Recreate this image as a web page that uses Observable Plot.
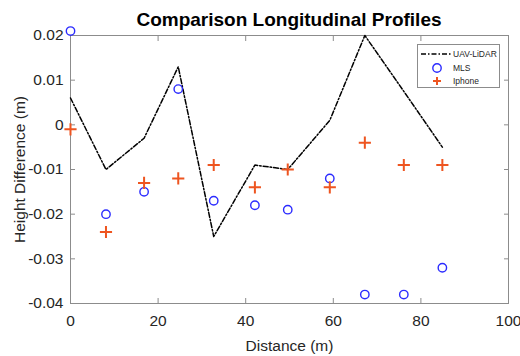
<!DOCTYPE html>
<html>
<head>
<meta charset="utf-8">
<script src="https://cdn.jsdelivr.net/npm/d3@7"></script>
<script src="https://cdn.jsdelivr.net/npm/@observablehq/plot@0.6"></script>
<style>
  html, body { margin: 0; padding: 0; background: #fff; }
  #wrap { position: relative; width: 520px; height: 356px; font-family: "Liberation Sans", Arial, sans-serif; }
  #title { position: absolute; left: 70px; width: 438px; top: 9px; text-align: center; font-size: 19px; font-weight: bold; color: #000; line-height: 22px; }
  #legend { position: absolute; left: 417px; top: 44px; width: 81px; height: 42px; border: 1px solid #8c8c8c; background: #fff; font-size: 8.5px; color: #262626; }
  #legend .row { position: absolute; left: 0; height: 12px; width: 100%; }
  #legend svg { position: absolute; left: 2px; top: 0; }
  #legend span { position: absolute; left: 35px; top: 0; line-height: 12px; white-space: nowrap; }
</style>
</head>
<body>
<div id="wrap">
  <div id="chart"></div>
  <div id="title">Comparison Longitudinal Profiles</div>
  <div id="legend"></div>
</div>
<script>
const distance = [0, 8.1, 16.8, 24.6, 32.7, 42.1, 49.6, 59.2, 67.2, 76.1, 84.9];
const uavLidar = [0.006, -0.010, -0.003, 0.013, -0.025, -0.009, -0.010, 0.001, 0.020, 0.0075, -0.005];
const mls = [0.021, -0.020, -0.015, 0.008, -0.017, -0.018, -0.019, -0.012, -0.038, -0.038, -0.032];
const iphone = [-0.001, -0.024, -0.013, -0.012, -0.009, -0.014, -0.010, -0.014, -0.004, -0.009, -0.009];
const xTicks = [0, 20, 40, 60, 80, 100];
const yTicks = [-0.04, -0.03, -0.02, -0.01, 0, 0.01, 0.02];
const seriesNames = ["UAV-LiDAR", "MLS", "Iphone"];

const colors = { line: "#000", mls: "#2b2bff", iphone: "#ee5520" };
const dash = "5,2,1.5,2";

const uavData = distance.map((d, i) => ({ d, v: uavLidar[i] }));
const mlsData = distance.map((d, i) => ({ d, v: mls[i] }));
const iphData = distance.map((d, i) => ({ d, v: iphone[i] }));

const fmtY = v => v === 0 ? "0" : v.toFixed(2);
const txt = "#262626";
const axisColor = "#8c8c8c";

const chart = Plot.plot({
  width: 520,
  height: 356,
  marginTop: 35,
  marginLeft: 70,
  marginRight: 12,
  marginBottom: 53,
  style: { fontFamily: "Liberation Sans, Arial, sans-serif", background: "#fff" },
  x: { domain: [0, 100] },
  y: { domain: [-0.04, 0.02] },
  marks: [
    Plot.frame({ stroke: axisColor }),
    Plot.axisX({ anchor: "bottom", ticks: xTicks, tickSize: -5, tickPadding: 16, stroke: axisColor, fill: txt, fontSize: 15.5,
      label: "Distance (m)", labelAnchor: "center", labelArrow: "none", labelOffset: 47 }),
    Plot.axisX({ anchor: "top", ticks: xTicks, tickSize: -5, stroke: axisColor, tickFormat: () => "", label: null }),
    Plot.axisY({ anchor: "left", ticks: yTicks, tickSize: -5, tickPadding: 12, stroke: axisColor, fill: txt, fontSize: 15.5, tickFormat: fmtY,
      label: "Height Difference (m)", labelAnchor: "center", labelArrow: "none", labelOffset: 57 }),
    Plot.axisY({ anchor: "right", ticks: yTicks, tickSize: -5, stroke: axisColor, tickFormat: () => "", label: null }),
    Plot.line(uavData, { x: "d", y: "v", stroke: colors.line, strokeWidth: 1.5, strokeDasharray: dash }),
    Plot.dot(mlsData, { x: "d", y: "v", r: 4.2, stroke: colors.mls, strokeWidth: 1.4, fill: "none" }),
    Plot.dot(iphData, { x: "d", y: "v", r: 4, symbol: "plus", stroke: colors.iphone, strokeWidth: 2 })
  ]
});
document.getElementById("chart").appendChild(chart);

// legend
const legend = document.getElementById("legend");
const rowTops = [3, 17, 30];
const symbols = [
  `<line x1="1" y1="6" x2="32" y2="6" stroke="${colors.line}" stroke-width="1.5" stroke-dasharray="${dash}"/>`,
  `<circle cx="17" cy="6" r="4.2" fill="none" stroke="${colors.mls}" stroke-width="1.4"/>`,
  `<path d="M13,6H21M17,2V10" stroke="${colors.iphone}" stroke-width="2"/>`
];
seriesNames.forEach((name, i) => {
  const row = document.createElement("div");
  row.className = "row";
  row.style.top = rowTops[i] + "px";
  row.innerHTML = `<svg width="34" height="12">${symbols[i]}</svg><span>${name}</span>`;
  legend.appendChild(row);
});
</script>
</body>
</html>
